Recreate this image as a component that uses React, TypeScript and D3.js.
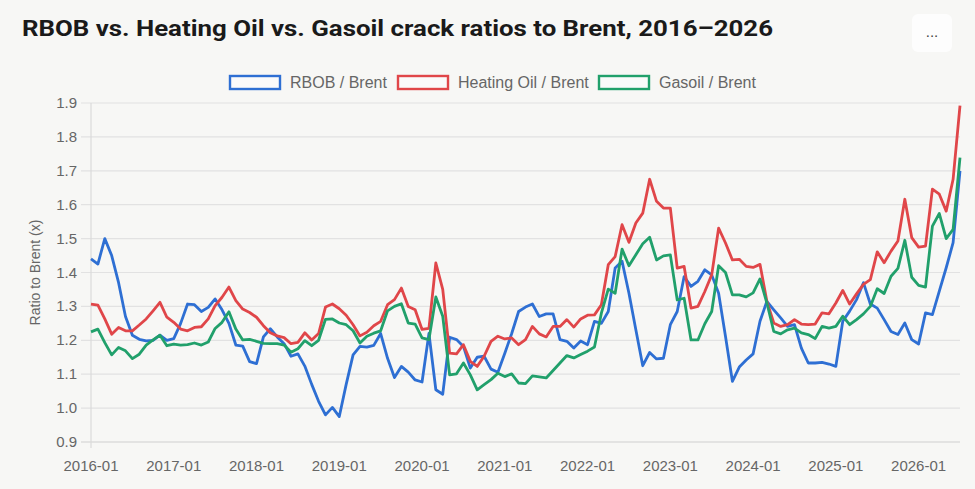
import React, { useEffect, useRef } from 'react';
import * as d3 from 'd3';

// monthly points, 2016-01 .. 2026-07
const startYear = 2016;
const pointCount = 127;

const xTickLabels = ['2016-01', '2017-01', '2018-01', '2019-01', '2020-01', '2021-01', '2022-01', '2023-01', '2024-01', '2025-01', '2026-01'];
const yTicks = [0.9, 1.0, 1.1, 1.2, 1.3, 1.4, 1.5, 1.6, 1.7, 1.8, 1.9];

const rbob = [
    1.44, 1.425, 1.50, 1.45, 1.37, 1.27, 1.215, 1.203, 1.198, 1.20, 1.215, 1.20,
    1.205, 1.25, 1.307, 1.305, 1.285, 1.297, 1.322, 1.29, 1.25, 1.186, 1.183, 1.137,
    1.131, 1.21, 1.234, 1.21, 1.19, 1.153, 1.16, 1.124, 1.07, 1.02, 0.98, 1.002,
    0.975, 1.07, 1.157, 1.182, 1.18, 1.185, 1.22, 1.147, 1.09, 1.123, 1.106, 1.083,
    1.077, 1.22, 1.054, 1.041, 1.209, 1.202, 1.182, 1.118, 1.15, 1.153, 1.115, 1.106,
    1.162, 1.22, 1.285, 1.298, 1.307, 1.27, 1.278, 1.278, 1.202, 1.197, 1.177, 1.198,
    1.187, 1.256, 1.25, 1.285, 1.413, 1.433, 1.339, 1.231, 1.125, 1.164, 1.145, 1.147,
    1.246, 1.285, 1.388, 1.359, 1.374, 1.408, 1.393, 1.339, 1.211, 1.079, 1.121, 1.142,
    1.16, 1.256, 1.315, 1.29, 1.266, 1.241, 1.246, 1.177, 1.133, 1.133, 1.135, 1.13,
    1.123, 1.256, 1.286, 1.32, 1.37, 1.307, 1.295, 1.261, 1.226, 1.217, 1.251, 1.202,
    1.189, 1.281, 1.276, 1.345, 1.414, 1.488, 1.70
];

const heatingOil = [
    1.307, 1.304, 1.263, 1.218, 1.238, 1.228, 1.228, 1.245, 1.263, 1.287, 1.312, 1.268,
    1.253, 1.233, 1.228, 1.238, 1.24, 1.263, 1.302, 1.327, 1.357, 1.317, 1.292, 1.282,
    1.268, 1.243, 1.222, 1.213, 1.208, 1.19, 1.194, 1.222, 1.201, 1.22, 1.298, 1.307,
    1.293, 1.274, 1.246, 1.213, 1.224, 1.243, 1.256, 1.305, 1.32, 1.354, 1.30, 1.29,
    1.232, 1.235, 1.428, 1.35, 1.162, 1.16, 1.187, 1.138, 1.123, 1.153, 1.197, 1.212,
    1.204, 1.207, 1.187, 1.202, 1.241, 1.219, 1.21, 1.241, 1.241, 1.261, 1.239, 1.263,
    1.274, 1.275, 1.305, 1.423, 1.447, 1.541, 1.489, 1.546, 1.575, 1.675, 1.61, 1.59,
    1.59, 1.413, 1.418, 1.295, 1.30, 1.344, 1.393, 1.531, 1.487, 1.437, 1.439, 1.418,
    1.415, 1.424, 1.315, 1.251, 1.241, 1.246, 1.261, 1.248, 1.246, 1.248, 1.281, 1.278,
    1.31, 1.347, 1.307, 1.337, 1.365, 1.379, 1.461, 1.429, 1.463, 1.493, 1.616, 1.503,
    1.475, 1.478, 1.646, 1.631, 1.581, 1.675, 1.892
];

const gasoil = [
    1.225, 1.233, 1.193, 1.157, 1.179, 1.169, 1.146, 1.159, 1.186, 1.201, 1.215, 1.184,
    1.189, 1.186, 1.187, 1.192, 1.186, 1.195, 1.235, 1.253, 1.284, 1.233, 1.201, 1.203,
    1.197, 1.191, 1.19, 1.19, 1.186, 1.165, 1.175, 1.199, 1.184, 1.2, 1.262, 1.263,
    1.251, 1.246, 1.228, 1.192, 1.212, 1.221, 1.228, 1.287, 1.30, 1.308, 1.251, 1.248,
    1.207, 1.202, 1.328, 1.271, 1.098, 1.101, 1.133, 1.098, 1.054, 1.069, 1.084, 1.103,
    1.093, 1.101, 1.074, 1.072, 1.095, 1.092, 1.089, 1.111, 1.133, 1.155, 1.148, 1.158,
    1.168, 1.18, 1.28, 1.351, 1.339, 1.469, 1.42, 1.452, 1.485, 1.504, 1.437, 1.449,
    1.452, 1.319, 1.324, 1.201, 1.201, 1.249, 1.285, 1.42, 1.40, 1.334, 1.334, 1.328,
    1.34, 1.381, 1.31, 1.226, 1.219, 1.231, 1.236, 1.222, 1.217, 1.205, 1.241, 1.236,
    1.241, 1.271, 1.246, 1.261, 1.278, 1.30, 1.352, 1.338, 1.389, 1.412, 1.495, 1.386,
    1.362, 1.357, 1.537, 1.574, 1.5, 1.527, 1.739
];

const seriesNames = ['RBOB / Brent', 'Heating Oil / Brent', 'Gasoil / Brent'];
const seriesColors = ['#2e6fd3', '#e04649', '#21a06b'];

const App: React.FC = () => {
    const svgRef = useRef<SVGSVGElement>(null);

    useEffect(() => {
        if (!svgRef.current) return;
        d3.select(svgRef.current).selectAll('*').remove();

        const width = 975;
        const height = 489;
        const plot = { left: 91, right: 960, top: 103, bottom: 442 };
        const textGray = '#666';
        const font = '"Liberation Sans", Arial, sans-serif';

        const months = d3.range(pointCount).map(i =>
            `${startYear + Math.floor(i / 12)}-${String((i % 12) + 1).padStart(2, '0')}`);

        const svg = d3.select(svgRef.current)
            .attr('width', width)
            .attr('height', height);

        svg.append('rect')
            .attr('width', width)
            .attr('height', height)
            .attr('fill', '#f7f7f5');

        // Title
        svg.append('text')
            .attr('x', 22)
            .attr('y', 36)
            .attr('font-family', '"Roboto", "Liberation Sans", sans-serif')
            .attr('font-weight', 700)
            .attr('font-size', 22)
            .attr('fill', '#1a1a1a')
            .attr('textLength', 751)
            .attr('lengthAdjust', 'spacingAndGlyphs')
            .text('RBOB vs. Heating Oil vs. Gasoil crack ratios to Brent, 2016–2026');

        // Menu button
        svg.append('rect')
            .attr('x', 912)
            .attr('y', 14)
            .attr('width', 40)
            .attr('height', 38)
            .attr('rx', 6)
            .attr('fill', '#fdfdfd');
        svg.append('text')
            .attr('x', 932)
            .attr('y', 37)
            .attr('text-anchor', 'middle')
            .attr('font-family', font)
            .attr('font-size', 15)
            .attr('fill', '#444')
            .text('...');

        // Scales
        const xScale = d3.scaleLinear()
            .domain([0, pointCount - 1])
            .range([plot.left, plot.right]);

        const yScale = d3.scaleLinear()
            .domain([0.9, 1.9])
            .range([plot.bottom, plot.top]);

        // Grid lines
        svg.append('g')
            .selectAll('line')
            .data(yTicks)
            .enter().append('line')
            .attr('x1', plot.left - 10)
            .attr('x2', plot.right)
            .attr('y1', d => yScale(d))
            .attr('y2', d => yScale(d))
            .attr('stroke', d => d === 0.9 ? '#cfcfcf' : '#e2e2e2')
            .attr('stroke-width', 1.2);

        svg.append('line')
            .attr('x1', plot.left)
            .attr('x2', plot.left)
            .attr('y1', plot.top)
            .attr('y2', plot.bottom + 6)
            .attr('stroke', '#dadada')
            .attr('stroke-width', 1.2);

        // Y tick labels
        svg.append('g')
            .selectAll('text')
            .data(yTicks)
            .enter().append('text')
            .attr('x', 77)
            .attr('y', d => yScale(d) + 5)
            .attr('text-anchor', 'end')
            .attr('font-family', font)
            .attr('font-size', 15)
            .attr('fill', textGray)
            .text(d => d.toFixed(1));

        // X tick labels
        svg.append('g')
            .selectAll('text')
            .data(xTickLabels)
            .enter().append('text')
            .attr('x', d => xScale(months.indexOf(d)))
            .attr('y', 471)
            .attr('text-anchor', 'middle')
            .attr('font-family', font)
            .attr('font-size', 15)
            .attr('fill', textGray)
            .text(d => d);

        // Y axis title
        svg.append('text')
            .attr('transform', `translate(40,${(plot.top + plot.bottom) / 2}) rotate(-90)`)
            .attr('text-anchor', 'middle')
            .attr('font-family', font)
            .attr('font-size', 14)
            .attr('fill', textGray)
            .text('Ratio to Brent (x)');

        // Lines
        const line = d3.line<number>()
            .x((_, i) => xScale(i))
            .y(d => yScale(d));

        [rbob, heatingOil, gasoil].forEach((values, k) => {
            svg.append('path')
                .datum(values)
                .attr('fill', 'none')
                .attr('stroke', seriesColors[k])
                .attr('stroke-width', 2.8)
                .attr('stroke-linejoin', 'round')
                .attr('d', line);
        });

        // Legend
        const legendX = [229, 397, 598];
        seriesNames.forEach((name, k) => {
            const g = svg.append('g').attr('transform', `translate(${legendX[k]},75)`);
            g.append('rect')
                .attr('x', 1)
                .attr('y', 1)
                .attr('width', 50)
                .attr('height', 13)
                .attr('fill', '#fafafa')
                .attr('stroke', seriesColors[k])
                .attr('stroke-width', 2.4);
            g.append('text')
                .attr('x', 61)
                .attr('y', 13)
                .attr('font-family', font)
                .attr('font-size', 16)
                .attr('fill', textGray)
                .text(name);
        });
    }, []);

    return (
        <div style={{ position: 'fixed', left: 0, top: 0 }}>
            <svg ref={svgRef} style={{ display: 'block' }}></svg>
        </div>
    );
};

export default App;
